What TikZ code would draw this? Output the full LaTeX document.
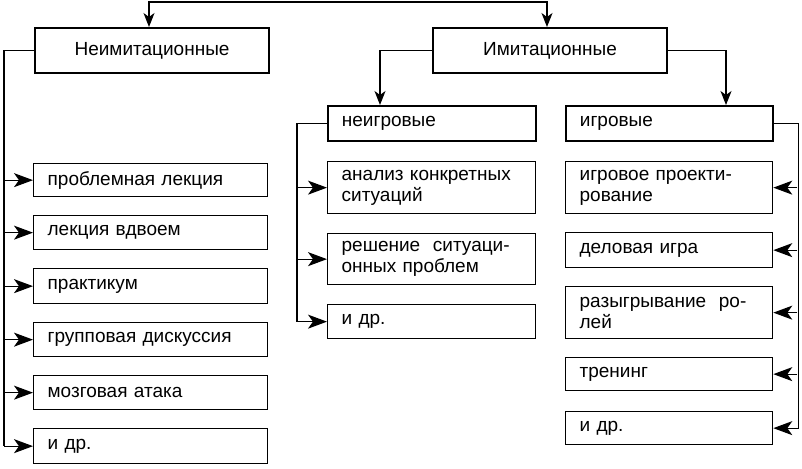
\documentclass[tikz,border=0pt]{standalone}
\usepackage{fontspec}
\setmainfont{Liberation Sans}
\usetikzlibrary{arrows.meta}

\begin{document}
\begin{tikzpicture}[x=1pt, y=1pt,
    every node/.style={font=\fontsize{19}{21}\selectfont},
    box/.style={draw, line width=1.3pt, anchor=north west, align=left,
      inner xsep=14pt, inner ysep=0pt, text width=#1},
    head/.style={draw, line width=2pt, anchor=north west,
      minimum width=234pt, minimum height=45pt, inner sep=0pt},
    link/.style={line width=1.2pt},
    arr/.style={line width=1.2pt, -{Stealth[length=14pt, width=11pt, inset=4pt]}},
    harr/.style={line width=1.2pt, -{Stealth[length=19pt, width=14pt, inset=5pt]}}]
  \useasboundingbox (0,0) rectangle (802,-468);
  \node[head] (neim) at (34,-27) {Неимитационные};
  \node[head] (imit) at (432,-27) {Имитационные};
  \draw[arr, {Stealth[length=14pt, width=11pt, inset=4pt]}-{Stealth[length=14pt, width=11pt, inset=4pt]}]
    ([xshift=-3pt]neim.north) -- ++(0,25) -| ([xshift=-3pt]imit.north);

  \node[box=206pt, minimum height=33pt] (l1) at (33,-163) {проблемная лекция};
  \node[box=206pt, minimum height=34pt] (l2) at (33,-215) {лекция вдвоем};
  \node[box=206pt, minimum height=35pt] (l3) at (33,-268) {практикум};
  \node[box=206pt, minimum height=34pt] (l4) at (33,-322) {групповая дискуссия};
  \node[box=206pt, minimum height=34pt] (l5) at (33,-375) {мозговая атака};
  \node[box=206pt, minimum height=35pt] (l6) at (33,-428) {и др.};
  \draw[link] (neim.west) -- ++(-30,0) |- ([xshift=-29pt]l6.west);
  \foreach \n in {l1,l2,l3,l4,l5,l6}
    \draw[harr] ([xshift=-29pt]\n.west) -- (\n.west);

  \node[box=180pt, minimum height=35pt, line width=1.8pt] (neig) at (327,-105) {неигровые};
  \node[box=180pt, minimum height=52pt] (m1) at (327,-161) {анализ конкретных\\ситуаций};
  \node[box=180pt, minimum height=51pt] (m2) at (327,-233) {решение\ \ ситуаци-\\онных проблем};
  \node[box=180pt, minimum height=34pt] (m3) at (327,-304) {и др.};
  \draw[arr] (imit.west) -| ([xshift=53pt]neig.north west);
  \draw[link] (neig.west) -- ++(-30,0) |- ([xshift=-29pt]m3.west);
  \foreach \n in {m1,m2,m3}
    \draw[harr] ([xshift=-29pt]\n.west) -- (\n.west);

  \node[box=179pt, minimum height=35pt, line width=1.8pt] (igr) at (565,-105) {игровые};
  \node[box=179pt, minimum height=52pt] (r1) at (565,-161) {игровое проекти-\\рование};
  \node[box=179pt, minimum height=35pt] (r2) at (565,-232) {деловая игра};
  \node[box=179pt, minimum height=52pt] (r3) at (565,-286) {разыгрывание\ \ ро-\\лей};
  \node[box=179pt, minimum height=33pt] (r4) at (565,-357) {тренинг};
  \node[box=179pt, minimum height=33pt] (r5) at (565,-411) {и др.};
  \draw[arr] (imit.east) -| ([xshift=161pt]igr.north west);
  \draw[link] (igr.east) -- ++(25,0) |- ([xshift=24pt]r5.east);
  \foreach \n in {r1,r2,r3,r4,r5}
    \draw[harr] ([xshift=24pt]\n.east) -- (\n.east);
\end{tikzpicture}
\end{document}
